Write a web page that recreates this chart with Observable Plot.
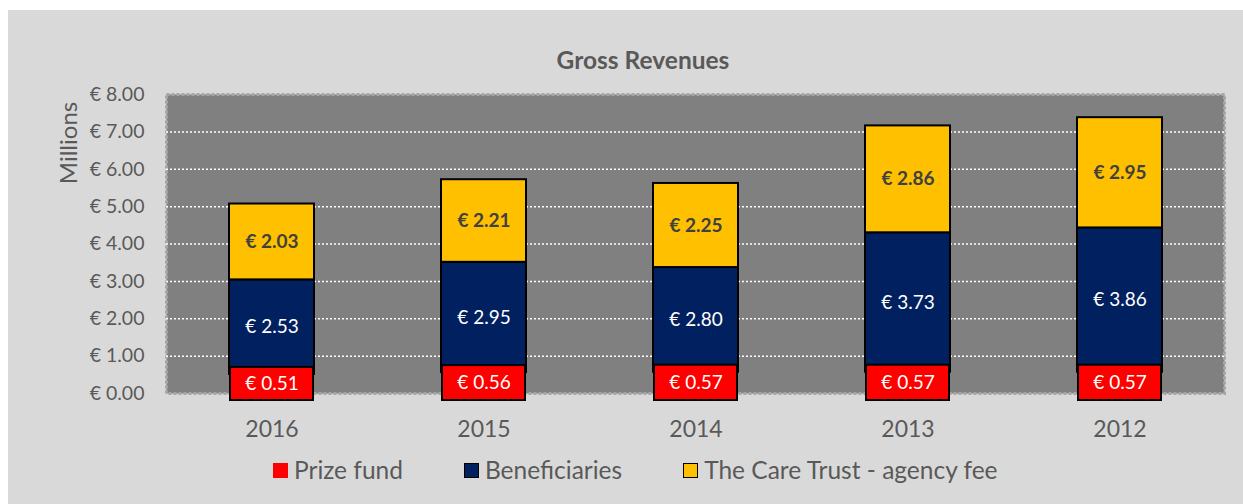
<!DOCTYPE html>
<html><head><meta charset="utf-8">
<script src="https://cdn.jsdelivr.net/npm/d3@7"></script>
<script src="https://cdn.jsdelivr.net/npm/@observablehq/plot@0.6"></script>
<style>
body{margin:0;background:#fff;font-family:Lato,sans-serif;}
#chart{position:absolute;left:8px;top:10px;width:1235px;height:494px;background:#d9d9d9;overflow:hidden;}
#title{position:absolute;left:0;width:1270px;top:38px;text-align:center;font-size:24.5px;line-height:24.5px;font-weight:bold;color:#595959;}
#ylab{position:absolute;left:60px;top:133px;transform:translate(-50%,-50%) rotate(-90deg);font-size:24px;line-height:24px;color:#595959;white-space:nowrap;}
#plot{position:absolute;left:0;top:68px;}
#legend{position:absolute;left:265px;top:448px;display:flex;align-items:center;font-size:24.5px;line-height:24.5px;color:#595959;}
.item{display:flex;align-items:center;margin-right:61px;}
.sw{width:15px;height:15px;box-sizing:border-box;margin-right:6px;}
</style>
</head><body>
<div id="chart">
  <div id="title">Gross Revenues</div>
  <div id="ylab">Millions</div>
  <div id="plot"></div>
  <div id="legend"></div>
</div>
<script>
const years = ["2016","2015","2014","2013","2012"];
const prizeFund = [0.51,0.56,0.57,0.57,0.57];
const beneficiaries = [2.53,2.95,2.80,3.73,3.86];
const agencyFee = [2.03,2.21,2.25,2.86,2.95];
const yTicks = [0,1,2,3,4,5,6,7,8];
const gridValues = [1,2,3,4,5,6,7];
const seriesNames = ["Prize fund","Beneficiaries","The Care Trust - agency fee"];
const seriesColors = ["#FF0000","#002060","#FFC000"];

const rows = years.map((year,i)=>({year, prize:prizeFund[i], ben:beneficiaries[i], fee:agencyFee[i]}));
const fmt = v => "€ " + d3.format(".2f")(v);

const chart = Plot.plot({
  width:1235, height:365, marginLeft:158, marginRight:19, marginTop:16, marginBottom:50,
  style:{fontFamily:"Lato, sans-serif", background:"transparent", color:"#595959", overflow:"visible"},
  x:{domain:years, paddingInner:0.6, paddingOuter:0.29, axis:null},
  y:{domain:[0,8], axis:null},
  marks:[
    Plot.frame({fill:"#808080", stroke:"#a6a6a6", strokeWidth:3, strokeDasharray:"3,2"}),
    Plot.ruleY(gridValues, {stroke:"#ffffff", strokeDasharray:"2,2", strokeWidth:1.5}),
    Plot.axisY(yTicks, {tickFormat:fmt, tickSize:0, tickPadding:22, fontSize:19.5, label:null, fill:"#595959"}),
    Plot.axisX({tickSize:0, tickPadding:27, fontSize:23, label:null, fill:"#595959"}),
    Plot.barY(rows,{x:"year", y1:r=>r.prize, y2:r=>r.prize+r.ben, fill:seriesColors[1], stroke:"#000", strokeWidth:2}),
    Plot.barY(rows,{x:"year", y1:r=>r.prize+r.ben, y2:r=>r.prize+r.ben+r.fee, fill:seriesColors[2], stroke:"#000", strokeWidth:2}),
    Plot.barY(rows,{x:"year", y1:0, y2:"prize", fill:seriesColors[0], stroke:"#000", strokeWidth:2, insetTop:-7, insetBottom:-7, insetLeft:1, insetRight:1}),
    Plot.text(rows,{x:"year", y:r=>r.prize/2, text:r=>fmt(r.prize), fill:"#ffffff", fontSize:19}),
    Plot.text(rows,{x:"year", y:r=>r.prize+r.ben/2, text:r=>fmt(r.ben), fill:"#ffffff", fontSize:19}),
    Plot.text(rows,{x:"year", y:r=>r.prize+r.ben+r.fee/2, text:r=>fmt(r.fee), fill:"#404040", fontSize:19, fontWeight:"bold"})
  ]
});
document.getElementById("plot").appendChild(chart);

const legend = document.getElementById("legend");
seriesNames.forEach((n,i)=>{
  const it = document.createElement("div"); it.className="item";
  const sw = document.createElement("span"); sw.className="sw"; sw.style.background=seriesColors[i];
  if(i>0) sw.style.border="1.5px solid #000";
  const t = document.createElement("span"); t.textContent=n;
  it.appendChild(sw); it.appendChild(t); legend.appendChild(it);
});
</script>
</body></html>
